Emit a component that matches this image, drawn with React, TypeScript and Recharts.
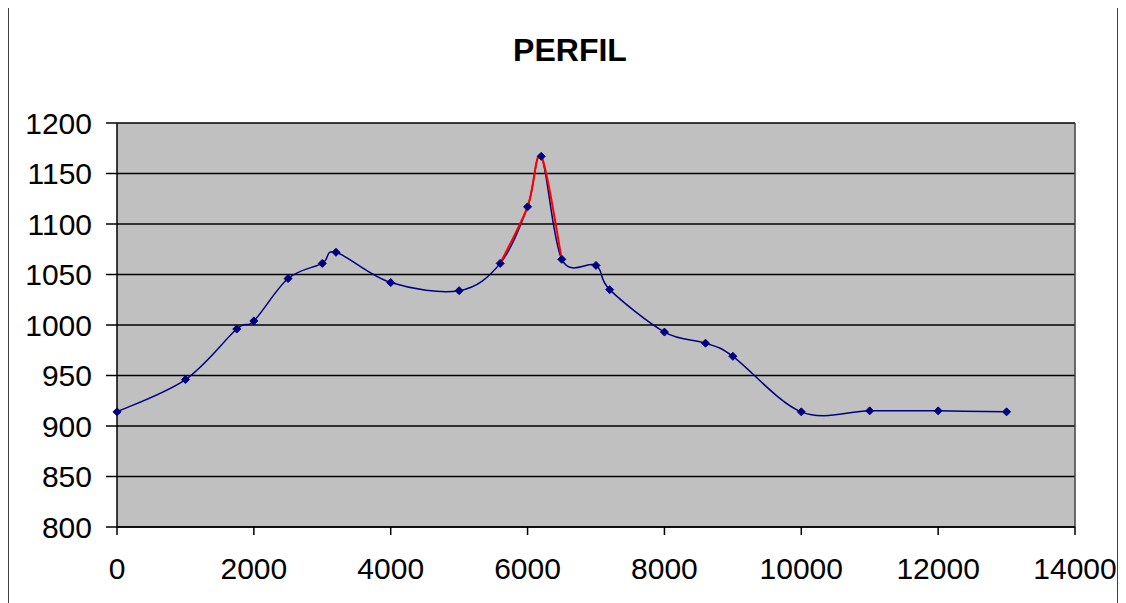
import React from "react";
import {
  LineChart,
  Line,
  XAxis,
  YAxis,
  CartesianGrid,
  ReferenceLine,
} from "recharts";

const distances = [
  0, 1000, 1750, 2000, 2500, 3000, 3200, 4000, 5000, 5600, 6000, 6200, 6500,
  7000, 7200, 8000, 8600, 9000, 10000, 11000, 12000, 13000,
];
const elevations = [
  914, 946, 996, 1004, 1046, 1061, 1072, 1042, 1034, 1061, 1117, 1167, 1065,
  1059, 1035, 993, 982, 969, 914, 915, 915, 914,
];

const peakDistances = [5600, 6000, 6200, 6500];
const peakElevations = [1061, 1117, 1167, 1065];

const xTicks = [0, 2000, 4000, 6000, 8000, 10000, 12000, 14000];
const yTicks = [800, 850, 900, 950, 1000, 1050, 1100, 1150, 1200];

const profile = distances.map((x, i) => ({ x, y: elevations[i] }));
const peak = peakDistances.map((x, i) => ({ x, y: peakElevations[i] }));

// Excel-like smoothed line (Catmull-Rom style bezier)
function smoothCurve(context: any) {
  let pts: number[][] = [];
  return {
    areaStart() {},
    areaEnd() {},
    lineStart() {
      pts = [];
    },
    point(x: number, y: number) {
      pts.push([+x, +y]);
    },
    lineEnd() {
      if (!pts.length) return;
      context.moveTo(pts[0][0], pts[0][1]);
      for (let i = 0; i < pts.length - 1; i++) {
        const p0 = pts[i - 1] || pts[i];
        const p1 = pts[i];
        const p2 = pts[i + 1];
        const p3 = pts[i + 2] || pts[i + 1];
        context.bezierCurveTo(
          p1[0] + (p2[0] - p0[0]) / 6,
          p1[1] + (p2[1] - p0[1]) / 6,
          p2[0] - (p3[0] - p1[0]) / 6,
          p2[1] - (p3[1] - p1[1]) / 6,
          p2[0],
          p2[1]
        );
      }
    },
  };
}

const Diamond = (props: any) => {
  const { cx, cy, index } = props;
  if (cx == null || cy == null) return <g key={index} />;
  const r = 4;
  return (
    <path
      key={index}
      d={`M${cx},${cy - r}L${cx + r},${cy}L${cx},${cy + r}L${cx - r},${cy}Z`}
      fill="#000080"
      stroke="#000080"
      strokeWidth={1}
    />
  );
};

const tickStyle = { fontSize: 30, fill: "#000", fontFamily: "Liberation Sans, Arial, sans-serif" };

export default function App() {
  return (
    <div
      style={{
        position: "relative",
        width: 1108,
        height: 600,
        border: "1px solid #404040",
        marginTop: -2,
        background: "#fff",
        fontFamily: "Liberation Sans, Arial, sans-serif",
      }}
    >
      <div
        style={{
          position: "absolute",
          top: 27,
          left: 0,
          width: 1122,
          textAlign: "center",
          fontSize: 32,
          fontWeight: "bold",
          lineHeight: 1,
          color: "#000",
        }}
      >
        PERFIL
      </div>
      <LineChart
        width={1108}
        height={600}
        margin={{ top: 116, right: 42, left: 8, bottom: 0 }}
      >
        <CartesianGrid
          vertical={false}
          fill="#C0C0C0"
          stroke="#000"
          strokeWidth={1.5}
          horizontalValues={yTicks}
        />
        <XAxis
          dataKey="x"
          type="number"
          domain={[0, 14000]}
          ticks={xTicks}
          interval={0}
          height={80}
          tick={tickStyle}
          tickSize={8}
          tickMargin={23}
          axisLine={{ stroke: "#000", strokeWidth: 1.5 }}
          tickLine={{ stroke: "#000", strokeWidth: 1.5 }}
        />
        <YAxis
          dataKey="y"
          type="number"
          domain={[800, 1200]}
          ticks={yTicks}
          interval={0}
          width={100}
          tick={tickStyle}
          tickSize={11}
          tickMargin={14}
          axisLine={{ stroke: "#000", strokeWidth: 1.5 }}
          tickLine={{ stroke: "#000", strokeWidth: 1.5 }}
        />
        <ReferenceLine x={14000} stroke="#404040" strokeWidth={1.5} />
        <Line
          data={profile}
          dataKey="y"
          type={smoothCurve as any}
          stroke="#000080"
          strokeWidth={1.5}
          dot={Diamond}
          activeDot={false}
          isAnimationActive={false}
        />
        <Line
          data={peak}
          dataKey="y"
          type={smoothCurve as any}
          stroke="#FF0000"
          strokeWidth={2}
          dot={false}
          activeDot={false}
          isAnimationActive={false}
        />
      </LineChart>
    </div>
  );
}
